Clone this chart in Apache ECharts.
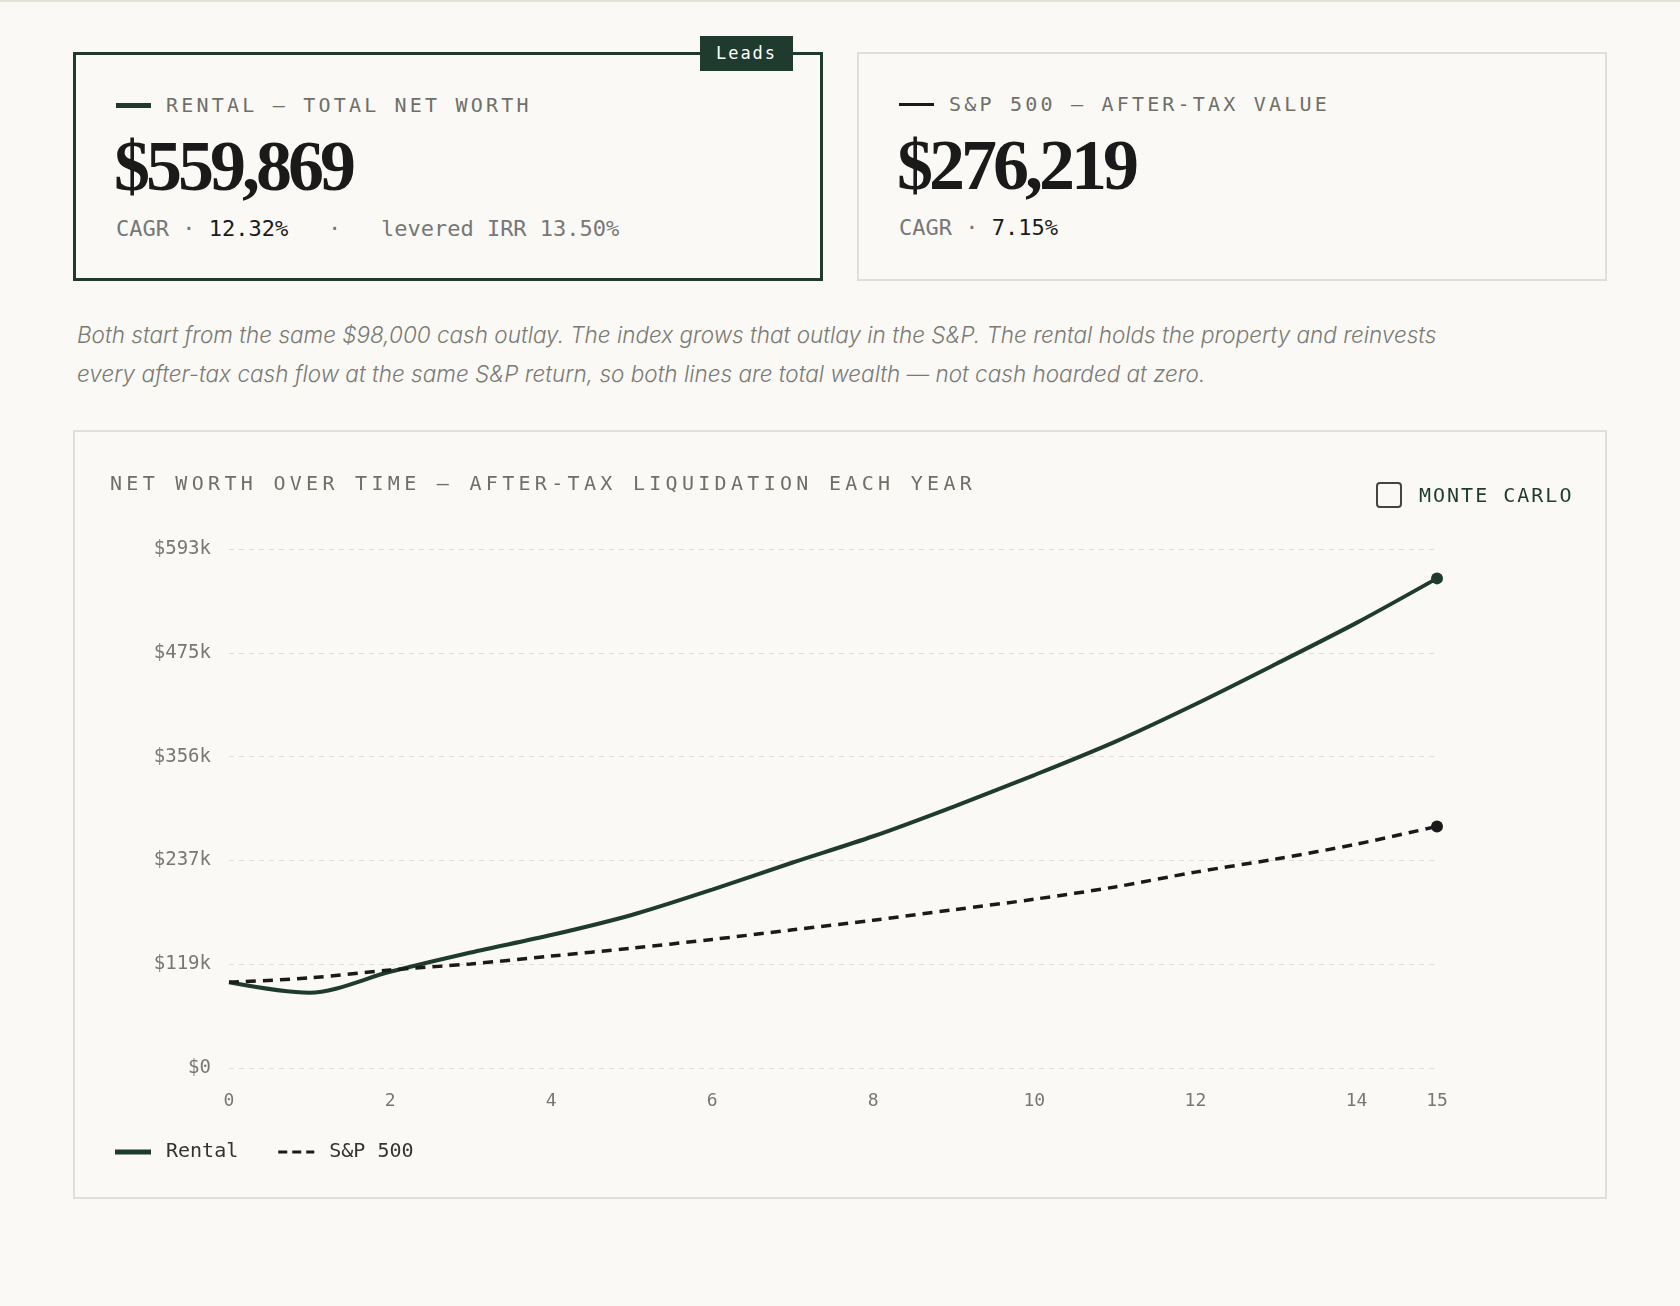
<!DOCTYPE html>
<html><head><meta charset="utf-8">
<script src="https://cdn.jsdelivr.net/npm/echarts@6/dist/echarts.min.js"></script>
<style>
body{margin:0;background:#faf9f5;width:1680px;height:1306px;position:relative;font-family:"DejaVu Sans Mono",monospace;color:#1c1c1c;border-top:2px solid #e4e2d8;box-sizing:border-box;overflow:hidden}
.card{position:absolute;top:50px;height:229px;width:750px;box-sizing:border-box;background:#faf9f5}
.c1{left:73px;border:3px solid #1f3a2e}
.c2{left:857px;border:2px solid #e0ded8}
.lab{position:absolute;left:40px;top:38px;font-size:20px;letter-spacing:3.2px;color:#6f6f6a;display:flex;align-items:center}
.lab i{display:inline-block;width:35px;margin-right:15px}
.big{position:absolute;left:38px;top:70px;font-family:"Liberation Serif",serif;font-weight:bold;font-size:72px;letter-spacing:-4px;color:#1a1a1a}
.sub{position:absolute;left:40px;top:161px;font-size:22px;color:#777;white-space:pre}
.sub b{font-weight:normal;color:#1a1a1a}
.tag{position:absolute;left:700px;top:34px;width:93px;height:35px;background:#1f3a2e;color:#fff;font-size:17px;letter-spacing:2px;text-align:center;line-height:35px}
.note{position:absolute;left:77px;top:313px;width:1560px;font-family:"Inter",sans-serif;font-style:italic;font-weight:300;font-size:22.5px;line-height:39px;color:#7b7b76}
#chart{position:absolute;left:73px;top:428px;width:1534px;height:769px;border:2px solid #e0ded8;box-sizing:border-box}
.ttl{position:absolute;left:110px;top:469px;font-size:20px;letter-spacing:4.3px;color:#6f6f6a}
.mc{position:absolute;left:1376px;top:480px;font-size:20px;letter-spacing:2px;color:#1f3a2e;display:flex;align-items:center}
.mc span{display:inline-block;width:22px;height:22px;border:2px solid #444;border-radius:4px;margin-right:17px}
</style></head><body>
<div class="card c1"><div class="lab"><i style="border-top:5px solid #1f3a2e"></i>RENTAL — TOTAL NET WORTH</div>
<div class="big">$559,869</div>
<div class="sub">CAGR · <b>12.32%</b>   ·   levered IRR 13.50%</div></div>
<div class="tag">Leads</div>
<div class="card c2"><div class="lab"><i style="border-top:3px solid #1a1a1a"></i>S&amp;P 500 — AFTER-TAX VALUE</div>
<div class="big">$276,219</div>
<div class="sub">CAGR · <b>7.15%</b></div></div>
<div class="note">Both start from the same $98,000 cash outlay. The index grows that outlay in the S&amp;P. The rental holds the property and reinvests<br>every after-tax cash flow at the same S&amp;P return, so both lines are total wealth — not cash hoarded at zero.</div>
<div id="chart"></div>
<div class="ttl">NET WORTH OVER TIME — AFTER-TAX LIQUIDATION EACH YEAR</div>
<div class="mc"><span></span>MONTE CARLO</div>
<script>
const years=[0,1,2,3,4,5,6,7,8,9,10,11,12,13,14,15];
const rental=[98000,86000,110000,132000,152000,175000,204000,235000,265000,299000,335000,373000,416000,462000,509000,559869];
const sp500=[98000,103000,112000,119000,128000,137000,147000,158000,169000,181000,193000,207000,224000,239000,256000,276219];
const yMax=559869*1.06;
const c=echarts.init(document.getElementById('chart'));
const mono='DejaVu Sans Mono';
function pts(v){return years.map((x,i)=>[x,v[i]]);}
c.setOption({
 animation:false,
 legend:{left:35,bottom:30,itemWidth:36,itemHeight:5,itemGap:40,icon:'path://M0,0H36V5H0Z',textStyle:{fontFamily:mono,fontSize:20,color:'#333',padding:[0,0,0,10]},
  data:[{name:'Rental',itemStyle:{color:'#1f3a2e'}},{name:'S&P 500',icon:'path://M0,0H9V3H0ZM14,0H23V3H14ZM28,0H36V3H28Z',itemStyle:{color:'#1a1a1a'}}]},
 grid:{left:154,right:168,top:117,bottom:129},
 xAxis:{type:'value',min:0,max:15,interval:2,showMaxLabel:true,axisLine:{show:false},axisTick:{show:false},splitLine:{show:false},
  axisLabel:{fontFamily:mono,fontSize:18,color:'#777',margin:24}},
 yAxis:{type:'value',min:0,max:yMax,interval:yMax/5,axisLine:{show:false},axisTick:{show:false},
  splitLine:{lineStyle:{type:[5,5],color:'#dedcd4'}},
  axisLabel:{fontFamily:mono,fontSize:19,color:'#777',margin:18,formatter:v=>'$'+Math.round(v/1000)+(v?'k':'')}},
 series:[
  {name:'Rental',type:'line',smooth:0.3,data:pts(rental),symbol:'circle',symbolSize:v=>v[0]===15?12:0,showSymbol:true,lineStyle:{width:4,color:'#1f3a2e'},itemStyle:{color:'#1f3a2e'}},
  {name:'S&P 500',type:'line',smooth:0.3,data:pts(sp500),symbol:'circle',symbolSize:v=>v[0]===15?12:0,lineStyle:{width:3.5,type:[10,7],color:'#1a1a1a'},itemStyle:{color:'#1a1a1a'}}
 ]
});
</script>
</body></html>
